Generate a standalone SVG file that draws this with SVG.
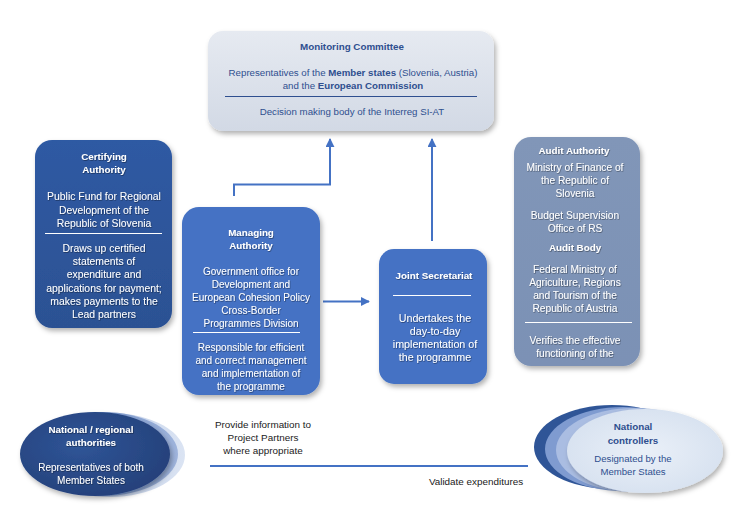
<svg xmlns="http://www.w3.org/2000/svg" width="732" height="523" viewBox="0 0 732 523">
<style>
text{font-family:"Liberation Sans",Arial,sans-serif;font-size:9.7px;text-anchor:middle}
.w{fill:#ffffff}
.d{fill:#2f4f8f}
.k{fill:#1a1a1a;font-size:9.9px}
.b{font-weight:bold;font-size:9.8px}
.ts{filter:url(#tsh)}
.ca text{font-size:10.4px}
.ma text{font-size:10px}
.js text{font-size:10.7px}
.aa text{font-size:10.2px}
.nr text{font-size:10px}
.nc text{font-size:9.6px}
g text.b{font-size:9.8px}
.wl{stroke:#ffffff;stroke-width:1}
.dl{stroke:#2f4f8f;stroke-width:1}
.con{stroke:#4472c4;stroke-width:2;fill:none}
</style>
<defs>
<filter id="sh" x="-10%" y="-10%" width="130%" height="130%">
<feDropShadow dx="2" dy="3" stdDeviation="2.5" flood-color="#000" flood-opacity="0.3"/>
</filter>
<filter id="tsh" x="-5%" y="-20%" width="110%" height="140%">
<feDropShadow dx="0.6" dy="0.8" stdDeviation="0.5" flood-color="#000" flood-opacity="0.45"/>
</filter>
<linearGradient id="gMC" x1="0" y1="0" x2="0" y2="1">
<stop offset="0" stop-color="#e6eaf1"/><stop offset="1" stop-color="#d2d9e5"/>
</linearGradient>
<linearGradient id="gCA" x1="0" y1="0" x2="0" y2="1">
<stop offset="0" stop-color="#2f5aa3"/><stop offset="1" stop-color="#2c5193"/>
</linearGradient>
<linearGradient id="gAA" x1="0" y1="0" x2="0" y2="1">
<stop offset="0" stop-color="#8196b8"/><stop offset="1" stop-color="#7b91b5"/>
</linearGradient>
<radialGradient id="gE1" cx="0.4" cy="0.4" r="0.7">
<stop offset="0" stop-color="#2f5597"/><stop offset="1" stop-color="#243f78"/>
</radialGradient>
<linearGradient id="gE2" x1="0" y1="0" x2="1" y2="0">
<stop offset="0" stop-color="#5b7fc0"/><stop offset="1" stop-color="#9fb4dc"/>
</linearGradient>
<linearGradient id="gE3" x1="0" y1="0" x2="1" y2="0">
<stop offset="0" stop-color="#a9bce0"/><stop offset="1" stop-color="#dbe4f3"/>
</linearGradient>
<radialGradient id="gE4" cx="0.5" cy="0.5" r="0.6">
<stop offset="0" stop-color="#eaf0f8"/><stop offset="1" stop-color="#d5e0ef"/>
</radialGradient>
<marker id="ah" viewBox="0 0 10 10" refX="9" refY="5" markerWidth="4.5" markerHeight="4.5" orient="auto">
<path d="M0,0 L10,5 L0,10 z" fill="#4472c4"/>
</marker>
</defs>
<rect width="732" height="523" fill="#ffffff"/>

<g id="connectors">
<path class="con" d="M234,196 V184.5 H330 V139" marker-end="url(#ah)"/>
<path class="con" d="M432,241 V139" marker-end="url(#ah)"/>
<path class="con" d="M323,301.5 H369" marker-end="url(#ah)"/>
<line x1="210" y1="466" x2="528" y2="466" stroke="#4472c4" stroke-width="2"/>
<text class="k" x="263" y="428">Provide information to</text>
<text class="k" x="263" y="441">Project Partners</text>
<text class="k" x="263" y="454">where appropriate</text>
<text class="k" x="476" y="485">Validate expenditures</text>
</g>

<g id="monitoring-committee">
<rect x="208" y="31" width="286" height="100" rx="15" fill="url(#gMC)" filter="url(#sh)"/>
<text class="d b" x="352" y="50">Monitoring Committee</text>
<text class="d" x="353" y="76">Representatives of the <tspan font-weight="bold">Member states</tspan> (Slovenia, Austria)</text>
<text class="d" x="353" y="89">and the <tspan font-weight="bold">European Commission</tspan></text>
<line class="dl" x1="225" y1="96.5" x2="477" y2="96.5"/>
<text class="d" x="352" y="115">Decision making body of the Interreg SI-AT</text>
</g>

<g id="certifying-authority" class="ca">
<rect x="35" y="140" width="137" height="188" rx="17" fill="url(#gCA)" filter="url(#sh)"/>
<g class="ts">
<text class="w b" x="104" y="160">Certifying</text>
<text class="w b" x="104" y="173">Authority</text>
<text class="w" x="104" y="200">Public Fund for Regional</text>
<text class="w" x="104" y="214">Development  of the</text>
<text class="w" x="104" y="227">Republic of Slovenia</text>
<text class="w" x="104" y="252">Draws up certified</text>
<text class="w" x="104" y="265">statements of</text>
<text class="w" x="104" y="278">expenditure and</text>
<text class="w" x="104" y="292">applications for payment;</text>
<text class="w" x="104" y="305">makes payments to the</text>
<text class="w" x="104" y="318">Lead partners</text>
</g>
<line class="wl" x1="45" y1="233.5" x2="162" y2="233.5"/>
</g>

<g id="managing-authority" class="ma">
<rect x="182" y="207" width="138" height="188" rx="17" fill="#4472c4" filter="url(#sh)"/>
<g class="ts">
<text class="w b" x="251" y="236">Managing</text>
<text class="w b" x="251" y="249">Authority</text>
<text class="w" x="251" y="275">Government office for</text>
<text class="w" x="251" y="288">Development and</text>
<text class="w" x="251" y="301">European Cohesion Policy</text>
<text class="w" x="251" y="314">Cross-Border</text>
<text class="w" x="251" y="327">Programmes Division</text>
<text class="w" x="251" y="351">Responsible for efficient</text>
<text class="w" x="251" y="364">and correct management</text>
<text class="w" x="251" y="377">and implementation of</text>
<text class="w" x="251" y="390">the programme</text>
</g>
<line class="wl" x1="193" y1="332.5" x2="300" y2="332.5"/>
</g>

<g id="joint-secretariat" class="js">
<rect x="379" y="249" width="108" height="135" rx="15" fill="#4472c4" filter="url(#sh)"/>
<g class="ts">
<text class="w b" x="434" y="279">Joint Secretariat</text>
<text class="w" x="435" y="322">Undertakes the</text>
<text class="w" x="435" y="335">day-to-day</text>
<text class="w" x="435" y="348">implementation of</text>
<text class="w" x="435" y="361">the programme</text>
</g>
<line class="wl" x1="393" y1="295.5" x2="471" y2="295.5"/>
</g>

<g id="audit-authority" class="aa">
<rect x="514" y="137" width="126" height="229" rx="17" fill="url(#gAA)" filter="url(#sh)"/>
<g class="ts">
<text class="w b" x="574" y="154">Audit Authority</text>
<text class="w" x="575" y="171">Ministry of Finance of</text>
<text class="w" x="575" y="184">the Republic of</text>
<text class="w" x="575" y="197">Slovenia</text>
<text class="w" x="575" y="219">Budget Supervision</text>
<text class="w" x="575" y="232">Office of RS</text>
<text class="w b" x="575" y="251">Audit Body</text>
<text class="w" x="575" y="273">Federal Ministry of</text>
<text class="w" x="575" y="286">Agriculture, Regions</text>
<text class="w" x="575" y="299">and Tourism of the</text>
<text class="w" x="575" y="312">Republic of Austria</text>
<text class="w" x="575" y="344">Verifies the effective</text>
<text class="w" x="575" y="357">functioning of the</text>
</g>
<line class="wl" x1="525" y1="322.5" x2="632" y2="322.5"/>
</g>

<g id="national-regional-authorities" class="nr">
<ellipse cx="110" cy="455" rx="75" ry="42" fill="url(#gE3)"/>
<ellipse cx="103" cy="454" rx="75" ry="42" fill="url(#gE2)"/>
<ellipse cx="95" cy="454" rx="75" ry="42" fill="url(#gE1)" filter="url(#sh)"/>
<g class="ts">
<text class="w b" x="91" y="433">National / regional</text>
<text class="w b" x="91" y="446">authorities</text>
<text class="w" x="91" y="471">Representatives of both</text>
<text class="w" x="91" y="484">Member States</text>
</g>
</g>

<g id="national-controllers" class="nc">
<ellipse cx="612" cy="447" rx="78" ry="42" fill="#2f5597"/>
<ellipse cx="623" cy="449" rx="78" ry="42" fill="#7f9bd0"/>
<ellipse cx="634" cy="450" rx="78" ry="42" fill="#aabde2"/>
<ellipse cx="645" cy="451" rx="78" ry="42" fill="url(#gE4)" filter="url(#sh)"/>
<text class="d b" x="633" y="430">National</text>
<text class="d b" x="633" y="444">controllers</text>
<text class="d" x="633" y="462">Designated by the</text>
<text class="d" x="633" y="475">Member States</text>
</g>
</svg>
